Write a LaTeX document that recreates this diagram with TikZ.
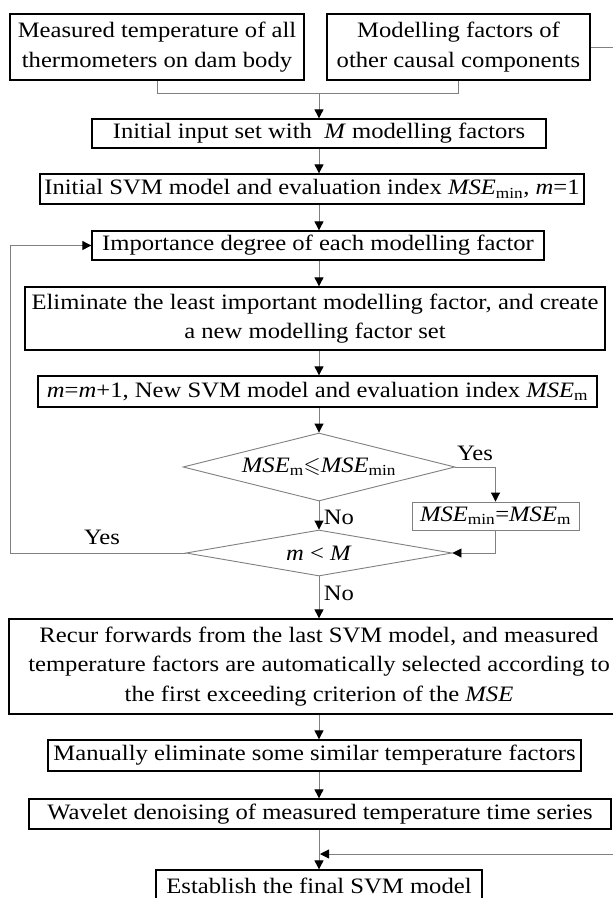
\documentclass[tikz,border=0pt]{standalone}
\usepackage{fontspec}
\usepackage{amssymb}
\setmainfont[FakeStretch=1.12]{Liberation Serif}
\usetikzlibrary{arrows.meta,shapes.geometric,calc}

\tikzset{
  txt/.style={font=\fontsize{22}{29.5}\selectfont},
  box/.style={txt, draw=black, line width=1.3pt, rectangle, inner sep=0pt, align=center},
  thinbox/.style={txt, draw=gray, line width=0.9pt, rectangle, inner sep=0pt, align=center},
  decision/.style={draw=gray, line width=0.9pt, diamond, inner sep=0pt},
  lbl/.style={txt, inner sep=0pt},
  link/.style={draw=gray, line width=0.9pt},
  arr/.style={link, -{Triangle[length=9pt,width=9pt,color=black]}},
}

\begin{document}
\begin{tikzpicture}[x=1pt,y=-1pt]
\useasboundingbox[fill=white] (0,0) rectangle (613,898);

% input sources
\node[box, minimum width=294, minimum height=66] (b1) at (157,47)
  {Measured temperature of all\\thermometers on dam body};
\node[box, minimum width=263, minimum height=66] (b2) at (458.5,47)
  {Modelling factors of\\other causal components};

% main chain
\node[box, minimum width=454, minimum height=29] (b3) at (319,133.5)
  {Initial input set with\ \ \textit{M} modelling factors};
\node[box, minimum width=544, minimum height=30] (b4) at (312,189)
  {Initial SVM model and evaluation index \textit{MSE}\textsubscript{min}, \textit{m}=1};
\node[box, minimum width=452, minimum height=29] (b5) at (318,245.5)
  {Importance degree of each modelling factor};
\node[box, minimum width=580, minimum height=63] (b6) at (315,318.5)
  {Eliminate the least important modelling factor, and create\\a new modelling factor set};
\node[box, minimum width=559, minimum height=31] (b7) at (317.5,391.5)
  {\textit{m}=\textit{m}+1, New SVM model and evaluation index \textit{MSE}\textsubscript{m}};

% decisions
\node[decision, minimum width=272, minimum height=68] (d1) at (319,467) {};
\node[lbl] at (d1) {\textit{MSE}\textsubscript{m}$\leqslant$\textit{MSE}\textsubscript{min}};
\node[thinbox, minimum width=167, minimum height=28] (mse) at (495.5,516)
  {\textit{MSE}\textsubscript{min}=\textit{MSE}\textsubscript{m}};
\node[decision, minimum width=266, minimum height=46] (d2) at (319,553) {};
\node[lbl] at (d2) {\textit{m} < \textit{M}};

% final stages
\node[box, minimum width=620, minimum height=95] (b8) at (319,666.5)
  {Recur forwards from the last SVM model, and measured\\temperature factors are automatically selected according to\\the first exceeding criterion of the \textit{MSE}};
\node[box, minimum width=533, minimum height=31] (b9) at (314.5,755.5)
  {Manually eliminate some similar temperature factors};
\node[box, minimum width=582, minimum height=30] (b10) at (320,814)
  {Wavelet denoising of measured temperature time series};
\node[box, minimum width=326, minimum height=32] (b11) at (319,886)
  {Establish the final SVM model};

% helper coordinates
\coordinate (ax) at (319,0);
\coordinate (j) at (319,93);
\coordinate (loopx) at (10,0);
\coordinate (rx) at (640,0);
\coordinate (feed) at (320,854);

% merge of the two sources
\draw[link] (b1.south) -- (b1.south |- j) -- (b2.south |- j) -- (b2.south);
\draw[arr] (j) -- (b3.north);

% vertical flow
\draw[arr] (ax |- b3.south) -- (ax |- b4.north);
\draw[arr] (ax |- b4.south) -- (ax |- b5.north);
\draw[arr] (ax |- b5.south) -- (ax |- b6.north);
\draw[arr] (ax |- b6.south) -- (ax |- b7.north);
\draw[arr] (ax |- b7.south) -- (d1.north);

% decision branches
\draw[arr] (d1.east) -| (mse.north);
\draw[arr] (mse.south) |- (d2.east);
\draw[arr] (d1.south) -- (d2.north);
\draw[arr] (d2.west) -- (d2.west -| loopx) |- (b5.west);
\draw[arr] (d2.south) -- (b8.north);

\node[lbl] at (475,453) {Yes};
\node[lbl] at (339,517) {No};
\node[lbl] at (102,537) {Yes};
\node[lbl] at (339,593) {No};

% tail of the chain
\draw[arr] (ax |- b8.south) -- (ax |- b9.north);
\draw[arr] (ax |- b9.south) -- (ax |- b10.north);
\draw[arr] (ax |- b10.south) -- (ax |- b11.north);

% feed of the causal factors into the final model
\draw[arr] (b2.east) -- (b2.east -| rx) -- (rx |- feed) -- (feed);
\end{tikzpicture}
\end{document}
